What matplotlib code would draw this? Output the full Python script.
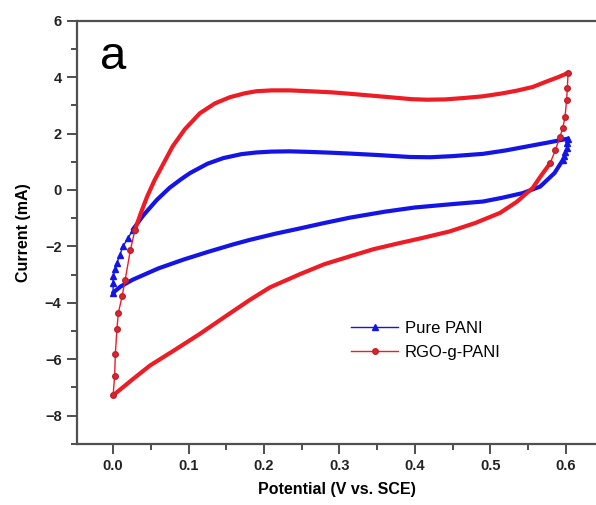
import matplotlib.pyplot as plt
from matplotlib.ticker import MultipleLocator

# Pure PANI loop (potential in V, current in mA)
pani_rise_v = [0.000, 0.000, 0.000, 0.003, 0.005, 0.009, 0.013, 0.020, 0.026]
pani_rise_i = [-3.64, -3.30, -3.06, -2.80, -2.59, -2.30, -2.00, -1.70, -1.41]
pani_fwd_v = [0.026, 0.040, 0.058, 0.075, 0.090, 0.102, 0.125, 0.146, 0.170, 0.190,
              0.210, 0.234, 0.260, 0.290, 0.314, 0.350, 0.393, 0.420, 0.450, 0.490,
              0.520, 0.556, 0.580, 0.603]
pani_fwd_i = [-1.41, -0.90, -0.35, 0.08, 0.38, 0.60, 0.93, 1.13, 1.27, 1.33,
              1.36, 1.37, 1.35, 1.32, 1.29, 1.24, 1.17, 1.16, 1.20, 1.28,
              1.40, 1.58, 1.70, 1.82]
pani_drop_v = [0.603, 0.602, 0.601, 0.599, 0.598, 0.596]
pani_drop_i = [1.82, 1.65, 1.50, 1.35, 1.20, 1.06]
pani_rev_v = [0.596, 0.585, 0.566, 0.543, 0.515, 0.490, 0.450, 0.400, 0.360, 0.314,
              0.280, 0.248, 0.215, 0.181, 0.159, 0.125, 0.093, 0.060, 0.026, 0.010,
              0.000]
pani_rev_i = [1.06, 0.60, 0.12, -0.11, -0.28, -0.41, -0.50, -0.62, -0.77, -0.98,
              -1.17, -1.36, -1.55, -1.77, -1.93, -2.20, -2.47, -2.78, -3.18, -3.42,
              -3.64]

# RGO-g-PANI loop
rgo_rise_v = [0.000, 0.002, 0.003, 0.005, 0.007, 0.012, 0.016, 0.023, 0.029]
rgo_rise_i = [-7.28, -6.60, -5.82, -4.94, -4.35, -3.76, -3.18, -2.12, -1.41]
rgo_fwd_v = [0.029, 0.037, 0.045, 0.055, 0.067, 0.079, 0.095, 0.115, 0.135, 0.155,
             0.175, 0.190, 0.210, 0.234, 0.260, 0.290, 0.314, 0.340, 0.370, 0.395,
             0.416, 0.440, 0.465, 0.490, 0.515, 0.535, 0.556, 0.575, 0.590, 0.603]
rgo_fwd_i = [-1.41, -0.80, -0.24, 0.35, 0.95, 1.55, 2.15, 2.72, 3.07, 3.29,
             3.43, 3.50, 3.53, 3.53, 3.50, 3.46, 3.41, 3.35, 3.28, 3.22,
             3.20, 3.21, 3.26, 3.32, 3.42, 3.52, 3.65, 3.85, 4.00, 4.15]
rgo_drop_v = [0.603, 0.602, 0.601, 0.599, 0.596, 0.592, 0.586, 0.579]
rgo_drop_i = [4.15, 3.60, 3.18, 2.60, 2.20, 1.87, 1.40, 0.94]
rgo_rev_v = [0.579, 0.567, 0.556, 0.535, 0.513, 0.480, 0.446, 0.410, 0.380, 0.345,
             0.314, 0.280, 0.248, 0.208, 0.181, 0.150, 0.115, 0.080, 0.049, 0.025,
             0.000]
rgo_rev_i = [0.94, 0.50, 0.07, -0.42, -0.81, -1.17, -1.47, -1.70, -1.88, -2.10,
             -2.35, -2.63, -2.98, -3.45, -3.90, -4.46, -5.10, -5.70, -6.22, -6.73,
             -7.28]

x_ticks = [0.0, 0.1, 0.2, 0.3, 0.4, 0.5, 0.6]
y_ticks = [-8, -6, -4, -2, 0, 2, 4, 6]

blue = '#1414e6'
red = '#ee1c24'

plt.rcParams['font.family'] = ['Liberation Sans', 'DejaVu Sans']

fig = plt.figure(figsize=(5.96, 5.05), dpi=100)
ax = fig.add_axes([0.129, 0.121, 0.871, 0.838])

# dense scan regions: the markers overlap into a thick band
for v, i, c in [(pani_fwd_v, pani_fwd_i, blue), (pani_rev_v, pani_rev_i, blue),
                (rgo_fwd_v, rgo_fwd_i, red), (rgo_rev_v, rgo_rev_i, red)]:
    ax.plot(v, i, color=c, lw=3.0, solid_capstyle='round', solid_joinstyle='round')

# fast-changing segments: individual markers visible
ax.plot(pani_rise_v, pani_rise_i, color=blue, lw=1, marker='^', ms=4, label='Pure PANI')
ax.plot(pani_drop_v, pani_drop_i, color=blue, lw=1, marker='^', ms=4)
ax.plot(rgo_rise_v, rgo_rise_i, color=red, lw=1, marker='o', ms=4,
        mfc='#d8262c', mec='#c02030', label='RGO-g-PANI')
ax.plot(rgo_drop_v, rgo_drop_i, color=red, lw=1, marker='o', ms=4,
        mfc='#d8262c', mec='#c02030')

ax.set_xlim(-0.048, 0.64)
ax.set_ylim(-9, 6)
ax.set_xticks(x_ticks)
ax.set_xticklabels([f'{t:.1f}' for t in x_ticks])
ax.set_yticks(y_ticks)
ax.xaxis.set_minor_locator(MultipleLocator(0.05))
ax.yaxis.set_minor_locator(MultipleLocator(1))

for s in ax.spines.values():
    s.set_color('#505050')
    s.set_linewidth(1.6)
ax.spines['right'].set_visible(False)

ax.tick_params(which='both', direction='out', color='#404040', width=1.3,
               labelsize=10.5, pad=4)
ax.tick_params(which='major', length=7)
ax.tick_params(which='minor', length=4)
for lbl in ax.get_xticklabels() + ax.get_yticklabels():
    lbl.set_fontweight('bold')
    lbl.set_color('#222222')

ax.set_xlabel('Potential (V vs. SCE)', fontsize=11.5, fontweight='bold', labelpad=6)
ax.set_ylabel('Current (mA)', fontsize=11.5, fontweight='bold', labelpad=10)

ax.text(0.07, 0.915, 'a', transform=ax.transAxes, fontsize=34, ha='center', va='center')

ax.legend(loc='center left', bbox_to_anchor=(0.5, 0.245), frameon=False, fontsize=12,
          handlelength=2.8, handletextpad=0.4, labelspacing=0.55)

fig.savefig('out.png', dpi=100)
